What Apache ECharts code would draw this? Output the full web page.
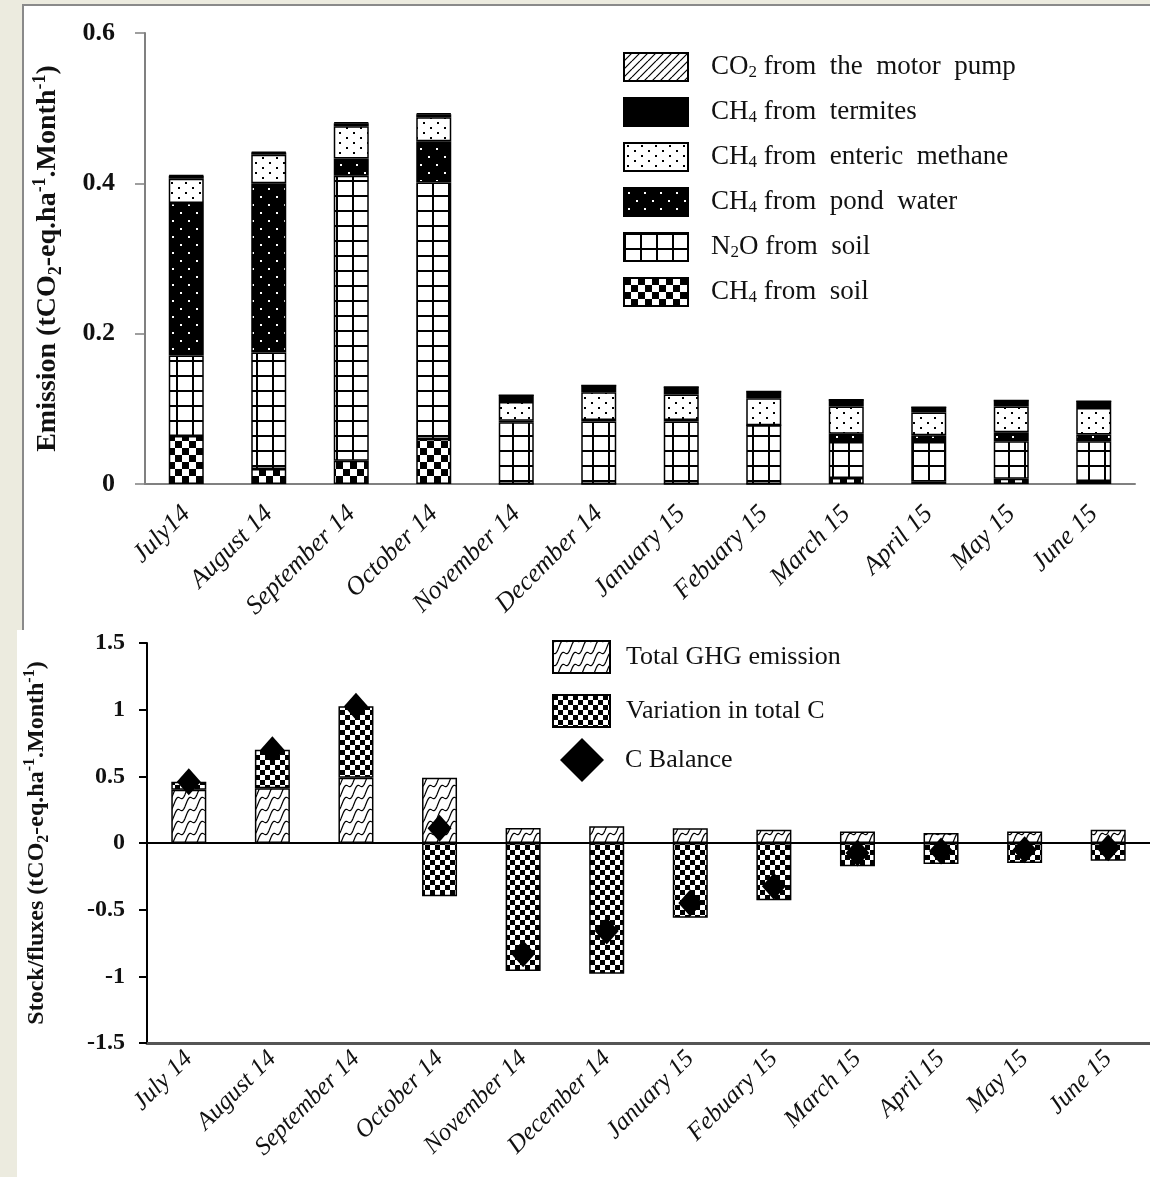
<!DOCTYPE html>
<html>
<head>
<meta charset="utf-8">
<script src="https://cdn.jsdelivr.net/npm/echarts@6/dist/echarts.min.js"></script>
<style>
  html, body { margin: 0; padding: 0; background: #ecebdf; width: 1150px; height: 1177px; overflow: hidden; }
  #panelTop { position: absolute; left: 22px; top: 4px; width: 1128px; height: 626px; background: #fff;
              border-top: 2px solid #8a8a8a; border-left: 2px solid #8a8a8a; box-sizing: border-box; }
  #panelBottom { position: absolute; left: 17px; top: 630px; width: 1133px; height: 547px; background: #fff; }
  #chartTop { position: absolute; left: 0; top: 0; width: 1150px; height: 630px; }
  #chartBottom { position: absolute; left: 0; top: 630px; width: 1150px; height: 547px; }
</style>
</head>
<body>
<div id="panelTop"></div>
<div id="chartTop"></div>
<div id="panelBottom"></div>
<div id="chartBottom"></div>
<script>
// ---- Monthly emission components (tCO2-eq per ha per month) ----
const monthsTop = ['July14', 'August 14', 'September 14', 'October 14', 'November 14', 'December 14',
                   'January 15', 'Febuary 15', 'March 15', 'April 15', 'May 15', 'June 15'];
const ch4Soil     = [0.064, 0.020, 0.031, 0.060, 0.000, 0.000, 0.000, 0.000, 0.008, 0.003, 0.007, 0.004];
const n2oSoil     = [0.107, 0.155, 0.379, 0.341, 0.082, 0.083, 0.083, 0.078, 0.048, 0.053, 0.050, 0.053];
const ch4Pond     = [0.203, 0.225, 0.023, 0.055, 0.002, 0.002, 0.002, 0.000, 0.011, 0.009, 0.012, 0.009];
const ch4Enteric  = [0.032, 0.038, 0.043, 0.032, 0.025, 0.037, 0.034, 0.036, 0.036, 0.030, 0.034, 0.035];
const ch4Termites = [0.004, 0.003, 0.004, 0.004, 0.009, 0.009, 0.010, 0.009, 0.009, 0.007, 0.008, 0.009];
const co2Pump     = [0.001, 0.001, 0.001, 0.001, 0.000, 0.000, 0.000, 0.000, 0.000, 0.000, 0.000, 0.000];
const emissionTicks = { min: 0, max: 0.6, interval: 0.2 };

// ---- Carbon stock / fluxes ----
const monthsBottom = ['July 14', 'August 14', 'September 14', 'October 14', 'November 14', 'December 14',
                      'January 15', 'Febuary 15', 'March 15', 'April 15', 'May 15', 'June 15'];
const totalGHG   = [0.40, 0.41, 0.49, 0.49, 0.113, 0.125, 0.11, 0.10, 0.087, 0.075, 0.087, 0.10];
const variationC = [0.06, 0.29, 0.535, -0.40, -0.96, -0.98, -0.56, -0.43, -0.175, -0.158, -0.15, -0.133];
const cBalance   = [0.46, 0.70, 1.025, 0.11, -0.83, -0.66, -0.45, -0.325, -0.075, -0.06, -0.05, -0.035];
const stockTicks = { min: -1.5, max: 1.5, interval: 0.5 };

const SERIF = '"Liberation Serif", "Times New Roman", serif';
const INK = '#111';

// ---- fill patterns ----
function pattern(w, h, bg, draw) {
  const c = document.createElement('canvas');
  c.width = w; c.height = h;
  const g = c.getContext('2d');
  g.fillStyle = bg; g.fillRect(0, 0, w, h);
  g.fillStyle = '#000'; g.strokeStyle = '#000';
  draw(g, w, h);
  return { image: c, repeat: 'repeat' };
}
const fillHatch = pattern(8, 8, '#fff', (g) => {
  g.lineWidth = 1.2;
  g.beginPath();
  for (let k = -8; k <= 16; k += 8) { g.moveTo(k, 8); g.lineTo(k + 8, 0); }
  g.stroke();
});
const fillTermites = '#000';
const fillEnteric = pattern(14, 10, '#fff', (g) => {
  g.fillRect(3, 2, 2, 2); g.fillRect(10, 7, 2, 2);
});
const fillPond = pattern(16, 16, '#000', (g) => {
  g.fillStyle = '#fff';
  g.fillRect(4, 4, 2, 2); g.fillRect(12, 12, 2, 2);
});
const fillGrid = pattern(16, 15, '#fff', (g) => {
  g.fillRect(0, 0, 2, 15); g.fillRect(0, 0, 16, 2);
});
const fillChecker = pattern(14, 14, '#fff', (g) => {
  g.fillRect(0, 0, 7, 7); g.fillRect(7, 7, 7, 7);
});
const fillCheckerSmall = pattern(10, 10, '#fff', (g) => {
  g.fillRect(0, 0, 5, 5); g.fillRect(5, 5, 5, 5);
});
const fillWave = pattern(12, 12, '#fff', (g) => {
  g.lineWidth = 1.2;
  for (let dy = -12; dy <= 12; dy += 12) {
    g.beginPath();
    for (let i = 0; i <= 24; i++) {
      const t = i / 24;
      const x = 12 * t;
      const y = dy + 12 - 12 * t + 3 * Math.sin(Math.PI * 2 * t);
      if (i === 0) g.moveTo(x, y); else g.lineTo(x, y);
    }
    g.stroke();
  }
});

// chemical formulas in legend names get their digit as a subscript;
// the words after the formula are set with wide spacing
function legendLabel(s) {
  const m = s.match(/^(CO|CH|N)(\d)(\S*) (.*)$/);
  if (!m) return s;
  return '{t|' + m[1] + '}{s|' + m[2] + '}{t|' + m[3] + ' ' + m[4].replace(/ /g, '  ') + '}';
}

// rich styles for axis titles with sub/superscripts
function titleRich(size) {
  const small = Math.round(size * 0.65);
  return {
    t: { fontFamily: SERIF, fontWeight: 'bold', fontSize: size, color: INK, lineHeight: size + 6 },
    s: { fontFamily: SERIF, fontWeight: 'bold', fontSize: small, color: INK, lineHeight: small - 2, verticalAlign: 'bottom' },
    p: { fontFamily: SERIF, fontWeight: 'bold', fontSize: small, color: INK, lineHeight: small + 2, verticalAlign: 'top' }
  };
}

// ================= Emission components =================
const chartEmission = echarts.init(document.getElementById('chartTop'));
const barBase = { type: 'bar', stack: 'emission', barWidth: 35, emphasis: { disabled: true } };
const seriesEmission = [
  ['CH4 from soil', ch4Soil, fillChecker],
  ['N2O from soil', n2oSoil, fillGrid],
  ['CH4 from pond water', ch4Pond, fillPond],
  ['CH4 from enteric methane', ch4Enteric, fillEnteric],
  ['CH4 from termites', ch4Termites, fillTermites],
  ['CO2 from the motor pump', co2Pump, fillHatch]
].map(([name, data, fill]) => Object.assign({}, barBase, {
  name, data, itemStyle: { color: fill, borderColor: '#000', borderWidth: 1.5 }
}));

chartEmission.setOption({
  animation: false,
  grid: { left: 145, top: 33, width: 990, height: 451 },
  legend: {
    orient: 'vertical', left: 623, top: 52, padding: 0,
    itemWidth: 64, itemHeight: 28, itemGap: 15, icon: 'rect', selectedMode: false,
    data: ['CO2 from the motor pump', 'CH4 from termites', 'CH4 from enteric methane',
           'CH4 from pond water', 'N2O from soil', 'CH4 from soil'],
    formatter: legendLabel,
    textStyle: {
      fontFamily: SERIF, fontSize: 27, color: INK, padding: [0, 0, 0, 18],
      rich: {
        t: { fontFamily: SERIF, fontSize: 27, color: INK, lineHeight: 28 },
        s: { fontFamily: SERIF, fontSize: 17, color: INK, lineHeight: 10, verticalAlign: 'bottom' }
      }
    }
  },
  xAxis: {
    type: 'category', data: monthsTop,
    axisLine: { lineStyle: { color: '#808080', width: 2 } },
    axisTick: { length: 10, lineStyle: { color: '#808080', width: 1.5 } },
    axisLabel: { interval: 0, rotate: 45, margin: 26, fontFamily: SERIF, fontStyle: 'italic', fontSize: 26, color: INK }
  },
  yAxis: {
    type: 'value', min: emissionTicks.min, max: emissionTicks.max, interval: emissionTicks.interval,
    splitLine: { show: false },
    axisLine: { show: true, lineStyle: { color: '#808080', width: 2 } },
    axisTick: { show: true, length: 10, lineStyle: { color: '#808080', width: 1.5 } },
    axisLabel: { fontFamily: SERIF, fontWeight: 'bold', fontSize: 26, color: INK, margin: 30 },
    name: '{t|Emission (tCO}{s|2}{t|-eq.ha}{p|-1}{t|.Month}{p|-1}{t|)}',
    nameLocation: 'middle', nameGap: 80, nameRotate: 90,
    nameTextStyle: { fontFamily: SERIF, fontWeight: 'bold', fontSize: 28, color: INK, rich: titleRich(28) }
  },
  series: seriesEmission
});

// ================= Stock / fluxes =================
const chartStock = echarts.init(document.getElementById('chartBottom'));
chartStock.setOption({
  animation: false,
  grid: { left: 147, top: 13, width: 1006, height: 400 },
  legend: [{
    orient: 'vertical', left: 552, top: 10, padding: 0,
    itemWidth: 57, itemHeight: 32, itemGap: 20, icon: 'rect', selectedMode: false,
    data: ['Total GHG emission', 'Variation in total C'],
    textStyle: { fontFamily: SERIF, fontSize: 26, color: INK, padding: [0, 0, 0, 11] }
  }, {
    orient: 'vertical', left: 560, top: 108, padding: 0,
    itemWidth: 44, itemHeight: 44, selectedMode: false,
    data: [{ name: 'C Balance', icon: 'diamond' }],
    textStyle: { fontFamily: SERIF, fontSize: 26, color: INK, padding: [0, 0, 0, 16] }
  }],
  xAxis: [{
    type: 'category', data: monthsBottom, position: 'top',
    axisLine: { onZero: true, lineStyle: { color: '#000', width: 2 } },
    axisTick: { inside: true, length: 10, lineStyle: { color: '#000', width: 2 } },
    axisLabel: { show: false }
  }, {
    type: 'category', data: monthsBottom, position: 'bottom',
    axisLine: { onZero: false, lineStyle: { color: '#555', width: 3 } },
    axisTick: { show: false },
    axisLabel: { interval: 0, rotate: 45, margin: 12, fontFamily: SERIF, fontStyle: 'italic', fontSize: 25, color: INK }
  }],
  yAxis: {
    type: 'value', min: stockTicks.min, max: stockTicks.max, interval: stockTicks.interval,
    splitLine: { show: false },
    axisLine: { show: true, onZero: false, lineStyle: { color: '#000', width: 2 } },
    axisTick: { show: true, length: 8, lineStyle: { color: '#000', width: 2 } },
    axisLabel: { fontFamily: SERIF, fontWeight: 'bold', fontSize: 24, color: INK, margin: 22 },
    name: '{t|Stock/fluxes (tCO}{s|2}{t|-eq.ha}{p|-1}{t|.Month}{p|-1}{t|)}',
    nameLocation: 'middle', nameGap: 95, nameRotate: 90,
    nameTextStyle: { fontFamily: SERIF, fontWeight: 'bold', fontSize: 24, color: INK, rich: titleRich(24) }
  },
  series: [{
    name: 'Total GHG emission', type: 'bar', stack: 'flux', barWidth: 35, data: totalGHG,
    emphasis: { disabled: true },
    itemStyle: { color: fillWave, borderColor: '#000', borderWidth: 1.5 }
  }, {
    name: 'Variation in total C', type: 'bar', stack: 'flux', barWidth: 35, data: variationC,
    emphasis: { disabled: true },
    itemStyle: { color: fillCheckerSmall, borderColor: '#000', borderWidth: 1.5 }
  }, {
    name: 'C Balance', type: 'scatter', data: cBalance, symbol: 'diamond', symbolSize: [24, 27],
    emphasis: { disabled: true }, z: 5,
    itemStyle: { color: '#000', opacity: 1 }
  }]
});
</script>
</body>
</html>
